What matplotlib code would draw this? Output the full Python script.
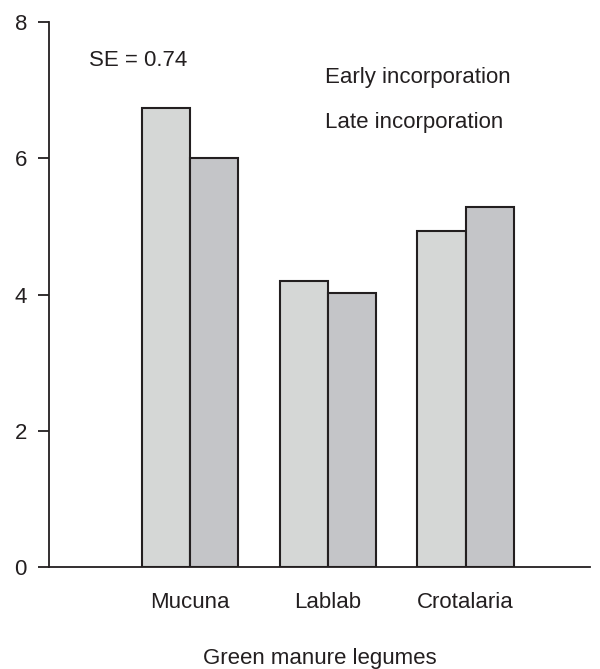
import numpy as np
import matplotlib
matplotlib.use("Agg")
import matplotlib.pyplot as plt

plt.rcParams['font.family'] = ['Liberation Sans', 'DejaVu Sans']

legumes = ["Mucuna", "Lablab", "Crotalaria"]
early = [6.74, 4.20, 4.93]
late = [6.00, 4.02, 5.29]
yticks = [0, 2, 4, 6, 8]

fig = plt.figure(figsize=(6, 6.69), dpi=100)
ax = fig.add_axes([0.082, 0.1525, 0.901, 0.8145])

x = np.arange(len(legumes))
w = 0.35
ax.bar(x - w/2, early, w, color="#d5d7d6", edgecolor="#231f20", linewidth=1.5)
ax.bar(x + w/2, late, w, color="#c4c5c8", edgecolor="#231f20", linewidth=1.5)

ax.set_xlim(-1.02, 2.9)
ax.set_ylim(0, 8)
ax.set_yticks(yticks)
ax.set_xticks(x)
ax.set_xticklabels(legumes)
ax.tick_params(axis='x', length=0, pad=18, labelsize=16, colors="#231f20")
ax.tick_params(axis='y', length=8, width=1.3, pad=8, labelsize=16, colors="#231f20")
for s in ["top", "right"]:
    ax.spines[s].set_visible(False)
for s in ["left", "bottom"]:
    ax.spines[s].set_linewidth(1.3)
    ax.spines[s].set_color("#231f20")
ax.set_xlabel("Green manure legumes", fontsize=16, labelpad=25, color="#231f20")

ax.text(-0.73, 7.44, "SE = 0.74", fontsize=16, color="#231f20", va="center")
ax.text(0.98, 7.18, "Early incorporation", fontsize=16, color="#231f20", va="center")
ax.text(0.98, 6.52, "Late incorporation", fontsize=16, color="#231f20", va="center")

fig.savefig("out.png", dpi=100)
